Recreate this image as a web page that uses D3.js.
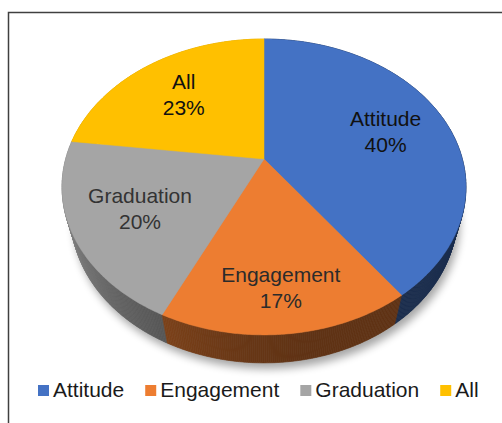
<!DOCTYPE html>
<html>
<head>
<meta charset="utf-8">
<style>
    body { margin: 0; background: #fff; }
    svg { display: block; font-family: "Liberation Sans", Arial, sans-serif; }
</style>
</head>
<body>
<div id="pie_chart"></div>
<script src="https://d3js.org/d3.v7.min.js"></script>
<script>
    // share of each category
    var categories = ["Attitude", "Engagement", "Graduation", "All"];
    var values = [40, 17, 20, 23];
    var colors = ["#4472C4", "#ED7D31", "#A5A5A5", "#FFC000"];
    var labelColors = ["#111111", "#2b2b2b", "#333333", "#111111"];

    var width = 502,
        height = 423;

    // 3d pie: camera looking down at the disc with a bit of perspective
    var elev = 46 * Math.PI / 180,
        camDist = 3.676,
        focal = 729,
        thick = 0.232,
        cx = 264,
        cy = 159;

    // theta runs clockwise from the far (top) point, r in pie radii, y is height
    function project(theta, r, y) {
        var X = r * Math.sin(theta),
            Z = -r * Math.cos(theta);
        var depth = camDist - y * Math.sin(elev) - Z * Math.cos(elev);
        return [cx + X * focal / depth,
                cy - (y * Math.cos(elev) - Z * Math.sin(elev)) * focal / depth];
    }

    var svg = d3.select("#pie_chart").append("svg")
        .attr("width", width)
        .attr("height", height);

    var defs = svg.append("defs");
    defs.append("filter")
        .attr("id", "soft")
        .attr("x", "-20%").attr("y", "-20%")
        .attr("width", "140%").attr("height", "140%")
        .append("feGaussianBlur")
        .attr("stdDeviation", 4);

    // chart frame (runs off the right and bottom edge)
    svg.append("rect")
        .attr("x", 8.5)
        .attr("y", 12.5)
        .attr("width", 600)
        .attr("height", 500)
        .attr("fill", "none")
        .attr("stroke", "#404040")
        .attr("stroke-width", 1.5);

    var pie = d3.pie().sort(null).value(function(d) { return d; });
    var arcs = pie(values);

    var line = d3.line();
    var step = Math.PI / 360;

    function rimPoints(a0, a1, r, y) {
        var pts = [];
        var n = Math.max(2, Math.ceil((a1 - a0) / step));
        for (var i = 0; i <= n; i++) {
            pts.push(project(a0 + (a1 - a0) * i / n, r, y));
        }
        return pts;
    }

    // soft shadow under the pie
    var base = rimPoints(0, 2 * Math.PI, 1, -thick);
    svg.append("path")
        .attr("d", line(base) + "Z")
        .attr("transform", "translate(3,6)")
        .attr("fill", "#000")
        .attr("opacity", 0.35)
        .attr("filter", "url(#soft)");

    // shading of the outer wall: darker on the right, lighter to the left
    function shade(theta) {
        var deg = theta * 180 / Math.PI;
        var t = Math.max(0, Math.min(1, (deg - 165) / 90));
        return 0.40 + 0.45 * Math.pow(t, 1.6);
    }

    // wall strips
    var strips = [];
    arcs.forEach(function(d, i) {
        var n = Math.max(1, Math.ceil((d.endAngle - d.startAngle) / step));
        for (var k = 0; k < n; k++) {
            var a0 = d.startAngle + (d.endAngle - d.startAngle) * k / n,
                a1 = d.startAngle + (d.endAngle - d.startAngle) * (k + 1) / n;
            strips.push({ a0: a0, a1: a1, i: i, z: -Math.cos((a0 + a1) / 2) });
        }
    });
    strips.sort(function(a, b) { return a.z - b.z; });

    svg.append("g")
        .attr("class", "walls")
        .selectAll("path")
        .data(strips)
        .enter().append("path")
        .attr("d", function(s) {
            var pts = [project(s.a0, 1, 0), project(s.a1, 1, 0),
                       project(s.a1, 1, -thick), project(s.a0, 1, -thick)];
            return line(pts) + "Z";
        })
        .each(function(s) {
            var c = d3.rgb(colors[s.i]);
            var f = shade((s.a0 + s.a1) / 2);
            var col = d3.rgb(c.r * f, c.g * f, c.b * f).toString();
            d3.select(this).attr("fill", col).attr("stroke", col).attr("stroke-width", 0.6);
        });

    // top faces
    svg.append("g")
        .attr("class", "slices")
        .selectAll("path")
        .data(arcs)
        .enter().append("path")
        .attr("d", function(d) {
            var pts = [project(0, 0, 0)].concat(rimPoints(d.startAngle, d.endAngle, 1, 0));
            return line(pts) + "Z";
        })
        .attr("fill", function(d, i) { return colors[i]; })
        .attr("stroke", function(d, i) { return colors[i]; })
        .attr("stroke-width", 0.5);

    // data labels
    var fmt = d3.format(".0%");
    var total = d3.sum(values);
    function labelRadius(d) {
        // the thin front slice gets its label pushed out a bit
        return d.data / total < 0.18 ? 0.77 : 0.67;
    }

    var labels = svg.append("g")
        .attr("class", "labels")
        .selectAll("text")
        .data(arcs)
        .enter().append("text")
        .attr("text-anchor", "middle")
        .attr("font-size", "21px")
        .attr("fill", function(d, i) { return labelColors[i]; })
        .attr("transform", function(d) {
            var p = project((d.startAngle + d.endAngle) / 2, labelRadius(d), 0);
            return "translate(" + p[0] + "," + p[1] + ")";
        });
    labels.append("tspan")
        .attr("x", 0)
        .attr("y", -5)
        .text(function(d, i) { return categories[i]; });
    labels.append("tspan")
        .attr("x", 0)
        .attr("y", 21)
        .text(function(d) { return fmt(d.data / total); });

    // legend
    var legend = svg.append("g")
        .attr("class", "legend")
        .attr("transform", "translate(38,397)");
    var lx = 0;
    categories.forEach(function(name, i) {
        var item = legend.append("g").attr("transform", "translate(" + lx + ",0)");
        item.append("rect")
            .attr("x", 0)
            .attr("y", -12)
            .attr("width", 11)
            .attr("height", 11)
            .attr("fill", colors[i]);
        var t = item.append("text")
            .attr("x", 15)
            .attr("y", 0)
            .attr("font-size", "21px")
            .attr("fill", "#1a1a1a")
            .text(name);
        lx += 15 + t.node().getComputedTextLength() + 21;
    });
</script>
</body>
</html>
